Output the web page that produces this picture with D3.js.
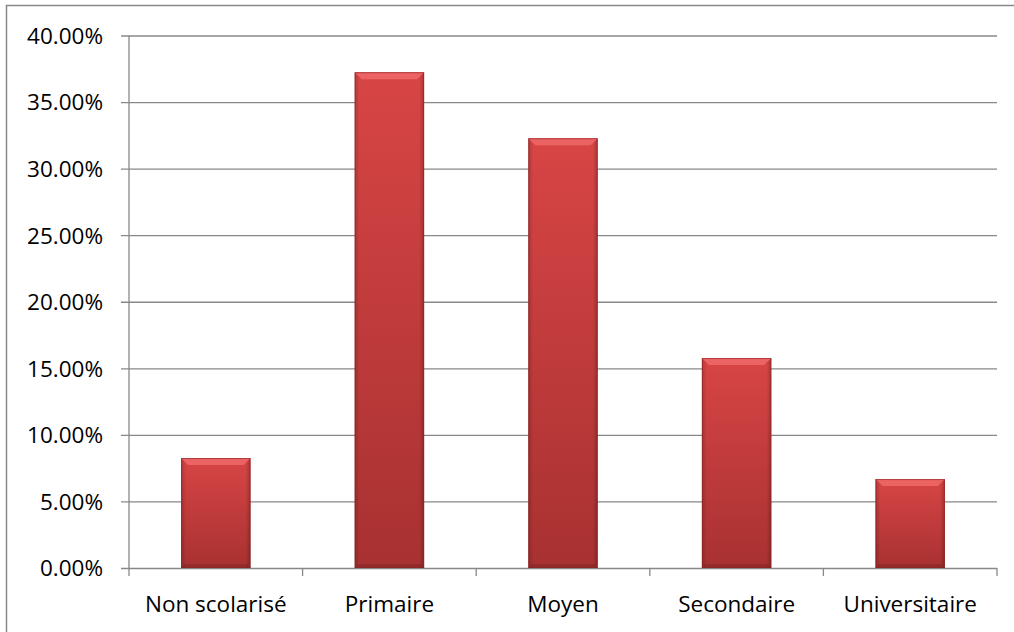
<!DOCTYPE html>
<html>
<head>
<meta charset="utf-8">
<script src="https://cdn.jsdelivr.net/npm/d3@7"></script>
<style>
  body { margin: 0; background: #fff; }
  svg text { font-family: "Open Sans", "Liberation Sans", sans-serif; fill: #000; }
</style>
</head>
<body>
<div id="chart"></div>
<script>
// Data
const categories = ['Non scolarisé', 'Primaire', 'Moyen', 'Secondaire', 'Universitaire'];
const values = [8.26, 37.24, 32.28, 15.77, 6.68];
const yTicks = [0, 5, 10, 15, 20, 25, 30, 35, 40];

const W = 1014, H = 632;
const margin = { top: 35.5, right: 17, bottom: 64, left: 129 };
const width = W - margin.left - margin.right;
const height = H - margin.top - margin.bottom;

const svg = d3.select('#chart')
    .append('svg')
    .attr('width', W)
    .attr('height', H);

// Outer chart border (only top and left visible)
svg.append('rect')
    .attr('x', 6.5)
    .attr('y', 5.5)
    .attr('width', W + 20)
    .attr('height', H + 20)
    .attr('fill', 'none')
    .attr('stroke', '#888')
    .attr('stroke-width', 1.5);

const defs = svg.append('defs');
const body = defs.append('linearGradient')
    .attr('id', 'barBody')
    .attr('x1', 0).attr('y1', 0).attr('x2', 0).attr('y2', 1);
body.append('stop').attr('offset', '0%').attr('stop-color', '#d84545');
body.append('stop').attr('offset', '100%').attr('stop-color', '#a83131');

const side = defs.append('linearGradient')
    .attr('id', 'barSide')
    .attr('x1', 0).attr('y1', 0).attr('x2', 1).attr('y2', 0);
side.append('stop').attr('offset', '0%').attr('stop-color', '#000').attr('stop-opacity', 0.18);
side.append('stop').attr('offset', '7%').attr('stop-color', '#000').attr('stop-opacity', 0);
side.append('stop').attr('offset', '93%').attr('stop-color', '#000').attr('stop-opacity', 0);
side.append('stop').attr('offset', '100%').attr('stop-color', '#000').attr('stop-opacity', 0.22);

const g = svg.append('g')
    .attr('transform', `translate(${margin.left},${margin.top})`);

const x = d3.scaleBand()
    .domain(categories)
    .range([0, width])
    .paddingInner(0.6)
    .paddingOuter(0.3);

const xBand = d3.scaleBand()
    .domain(categories)
    .range([0, width]);

const y = d3.scaleLinear()
    .domain([0, 40])
    .range([height, 0]);

// Gridlines + y axis
const yAxis = g.append('g')
    .call(d3.axisLeft(y)
        .tickValues(yTicks)
        .tickSize(-width)
        .tickFormat(d => d.toFixed(2) + '%'));
yAxis.select('.domain').remove();
yAxis.selectAll('line')
    .attr('stroke', '#888')
    .attr('stroke-width', 1.3)
    .attr('x1', -8);
yAxis.selectAll('text')
    .attr('x', -26)
    .attr('dy', '0.35em')
    .style('font-size', '22.5px');

// Y axis line
g.append('line')
    .attr('x1', 0).attr('x2', 0)
    .attr('y1', 0).attr('y2', height)
    .attr('stroke', '#888')
    .attr('stroke-width', 1.3);

// X axis ticks at band boundaries
const bounds = categories.map(c => xBand(c)).concat([width]);
g.selectAll('.xtick')
    .data(bounds)
    .enter()
    .append('line')
    .attr('class', 'xtick')
    .attr('x1', d => d).attr('x2', d => d)
    .attr('y1', height).attr('y2', height + 8)
    .attr('stroke', '#888')
    .attr('stroke-width', 1.3);

g.selectAll('.xlabel')
    .data(categories)
    .enter()
    .append('text')
    .attr('class', 'xlabel')
    .attr('x', d => xBand(d) + xBand.bandwidth() / 2)
    .attr('y', height + 44)
    .attr('text-anchor', 'middle')
    .style('font-size', '22.5px')
    .text(d => d);

// Bars
const bars = g.selectAll('.bar')
    .data(categories.map((c, i) => ({ c, v: values[i] })))
    .enter()
    .append('g')
    .attr('class', 'bar');

bars.append('rect')
    .attr('x', d => x(d.c))
    .attr('y', d => y(d.v))
    .attr('width', x.bandwidth())
    .attr('height', d => height - y(d.v))
    .attr('fill', 'url(#barBody)');

bars.append('rect')
    .attr('x', d => x(d.c))
    .attr('y', d => y(d.v))
    .attr('width', x.bandwidth())
    .attr('height', d => height - y(d.v))
    .attr('fill', 'url(#barSide)');

// Top bevel
const bev = 7;
bars.append('path')
    .attr('d', d => {
        const x0 = x(d.c), x1 = x0 + x.bandwidth(), t = y(d.v);
        return `M${x0},${t}L${x1},${t}L${x1 - bev},${t + bev}L${x0 + bev},${t + bev}Z`;
    })
    .attr('fill', '#ec6363');

// Bottom bevel
bars.append('path')
    .attr('d', d => {
        const x0 = x(d.c), x1 = x0 + x.bandwidth(), b = height;
        return `M${x0},${b}L${x1},${b}L${x1 - 4},${b - 4}L${x0 + 4},${b - 4}Z`;
    })
    .attr('fill', '#000')
    .attr('opacity', 0.12);

bars.append('rect')
    .attr('x', d => x(d.c) + 0.5)
    .attr('y', d => y(d.v) + 0.5)
    .attr('width', x.bandwidth() - 1)
    .attr('height', d => height - y(d.v) - 1)
    .attr('fill', 'none')
    .attr('stroke', '#8a2424')
    .attr('stroke-opacity', 0.6);
</script>
</body>
</html>
